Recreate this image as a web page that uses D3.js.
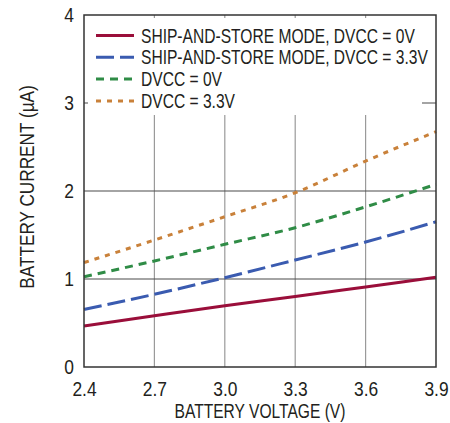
<!DOCTYPE html>
<html><head><meta charset="utf-8">
<script src="https://cdn.jsdelivr.net/npm/d3@7"></script>
<style>
html,body{margin:0;padding:0;background:#fff;}
svg text{font-family:"Liberation Sans",Arial,sans-serif;fill:#231f20;}
</style></head><body>
<svg id="c" width="450" height="423"></svg>
<script>
const voltages = [2.4, 2.7, 3.0, 3.3, 3.6, 3.9];
const shipStore0V = [0.466, 0.583, 0.697, 0.80, 0.91, 1.02];
const shipStore33V = [0.655, 0.826, 1.015, 1.216, 1.42, 1.65];
const dvcc0V = [1.026, 1.205, 1.394, 1.583, 1.82, 2.076];
const dvcc33V = [1.186, 1.443, 1.708, 1.98, 2.34, 2.674];
const seriesNames = ["SHIP-AND-STORE MODE, DVCC = 0V","SHIP-AND-STORE MODE, DVCC = 3.3V","DVCC = 0V","DVCC = 3.3V"];
const xTicks = [2.4, 2.7, 3.0, 3.3, 3.6, 3.9];
const yTicks = [0, 1, 2, 3, 4];
const xTitle = "BATTERY VOLTAGE (V)";
const yTitle = "BATTERY CURRENT (µA)";

const colors = ["#9a0e3a", "#3a5bb0", "#2f8c46", "#c9813a"];
const dashes = [null, "18,6", "8,6", "5,6"];
const seriesVals = [shipStore0V, shipStore33V, dvcc0V, dvcc33V];

const FS = 20, KW = 0.78, KN = 0.87;
function squeeze(sel, k) {
  sel.each(function () {
    const t = d3.select(this);
    const x0 = +(t.attr("x") || 0);
    const tr = t.attr("transform") || "";
    t.attr("x", x0 / k).attr("transform", tr + ` scale(${k},1)`);
  });
}

const svg = d3.select("#c");
const L = 84, R = 436, T = 15, B = 367;
const x = d3.scaleLinear().domain([2.4, 3.9]).range([L, R]);
const y = d3.scaleLinear().domain([0, 4]).range([B, T]);

// grid
svg.append("g").selectAll("line").data(xTicks.slice(1, -1)).join("line")
  .attr("x1", d => x(d)).attr("x2", d => x(d)).attr("y1", T).attr("y2", B)
  .attr("stroke", "#9a9a9a").attr("stroke-width", 1.2);
svg.append("g").selectAll("line").data(yTicks.slice(1, -1)).join("line")
  .attr("x1", L).attr("x2", R).attr("y1", d => y(d)).attr("y2", d => y(d))
  .attr("stroke", "#4a4a4a").attr("stroke-width", 1.2);

// series
const line = d3.line().x(d => x(d[0])).y(d => y(d[1])).curve(d3.curveMonotoneX);
seriesVals.forEach((vals, i) => {
  svg.append("path").datum(voltages.map((v, j) => [v, vals[j]]))
    .attr("d", line).attr("fill", "none").attr("stroke", colors[i])
    .attr("stroke-width", 3).attr("stroke-dasharray", dashes[i]);
});

// legend
const lg = svg.append("g");
lg.append("rect").attr("x", 88).attr("y", 18).attr("width", 334).attr("height", 97).attr("fill", "#fff");
seriesNames.forEach((n, i) => {
  const yy = 35.5 + i * 21.8;
  lg.append("line").attr("x1", 96).attr("x2", 134).attr("y1", yy).attr("y2", yy)
    .attr("stroke", colors[i]).attr("stroke-width", 3).attr("stroke-dasharray", dashes[i]);
  lg.append("text").attr("x", 141).attr("y", yy).attr("dy", "0.36em")
    .attr("font-size", FS).text(n);
});
squeeze(lg.selectAll("text"), KW);

// frame
svg.append("rect").attr("x", L).attr("y", T).attr("width", R - L).attr("height", B - T)
  .attr("fill", "none").attr("stroke", "#333").attr("stroke-width", 1.5);

// axes
const xa = svg.append("g").attr("transform", `translate(0,${B})`)
  .call(d3.axisBottom(x).tickValues(xTicks).tickFormat(d3.format(".1f")).tickSize(0).tickPadding(15));
xa.select(".domain").remove();
xa.selectAll("text").attr("font-size", FS).attr("fill", "#231f20");
squeeze(xa.selectAll("text"), KN);
const ya = svg.append("g").attr("transform", `translate(${L},0)`)
  .call(d3.axisLeft(y).tickValues(yTicks).tickFormat(d3.format("d")).tickSize(0).tickPadding(10));
ya.select(".domain").remove();
ya.selectAll("text").attr("font-size", FS).attr("fill", "#231f20");
squeeze(ya.selectAll("text"), KN);

const xt = svg.append("text").attr("x", (L + R) / 2).attr("y", 411).attr("dy", "0.36em")
  .attr("text-anchor", "middle").attr("font-size", FS).text(xTitle);
squeeze(xt, KW);
const yt = svg.append("text").attr("transform", `translate(27,187) rotate(-90)`)
  .attr("dy", "0.36em").attr("text-anchor", "middle").attr("font-size", FS).text(yTitle);
squeeze(yt, 0.86);
</script></body></html>
